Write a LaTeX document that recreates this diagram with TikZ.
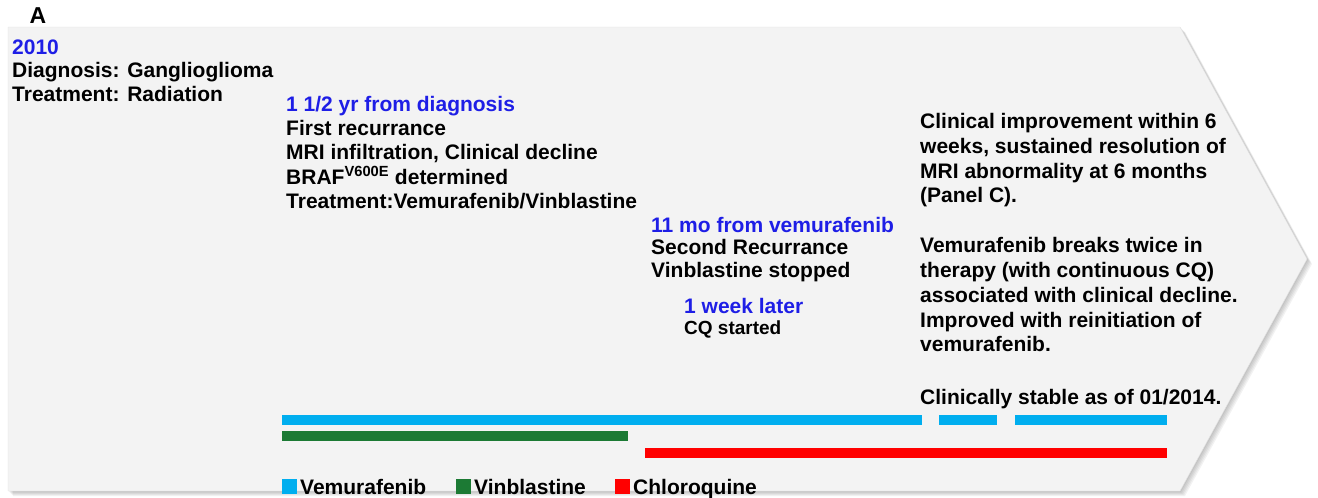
\documentclass[tikz,border=0pt]{standalone}
\usepackage{fontspec}
\setmainfont{Liberation Sans}
\usetikzlibrary{positioning}
\definecolor{tlblue}{RGB}{30,30,230}
\definecolor{vemblue}{RGB}{0,174,239}
\definecolor{vingreen}{RGB}{28,122,52}
\definecolor{cqred}{RGB}{255,0,0}
\definecolor{panelgray}{RGB}{243,243,243}

\begin{document}
\begin{tikzpicture}[x=1pt, y=-1pt,
    eventtext/.style={anchor=north west, align=left, inner sep=0pt, font=\fontsize{21}{24.2}\selectfont\bfseries},
    drugbar/.style={rectangle, anchor=west, inner sep=0pt, minimum height=10pt},
    legendbox/.style={rectangle, inner sep=0pt, minimum width=15pt, minimum height=15pt},
    legendtext/.style={anchor=base west, inner sep=0pt, font=\fontsize{21}{24}\selectfont\bfseries},
]
\useasboundingbox (0,0) rectangle (1318,498);

% Shadow of the timeline arrow
\foreach \s in {1,...,5} {
    \fill[black, opacity=0.05, xshift=\s pt, yshift=-\s pt] (8,27) -- (1180,27) -- (1307,259) -- (1180,491) -- (8,491) -- cycle;
}

% Timeline arrow
\draw[draw=black!12, fill=panelgray] (8,27) -- (1180,27) -- (1307,259) -- (1180,491) -- (8,491) -- cycle;

% Panel label
\node[font=\fontsize{23}{23}\selectfont\bfseries] (panel) at (38,16) {A};

% Events
\node[eventtext] (diagnosis) at (12,40) {\textcolor{tlblue}{2010}\\[-2pt]Diagnosis: Ganglioglioma\\Treatment: Radiation};
\node[eventtext] (recur1) at (286,96) {\textcolor{tlblue}{1 1/2 yr from diagnosis}\\First recurrance\\MRI infiltration, Clinical decline\\BRAF\textsuperscript{V600E} determined\\Treatment:Vemurafenib/Vinblastine};
\node[eventtext] (recur2) at (651,217) {\textcolor{tlblue}{11 mo from vemurafenib}\\[-2pt]Second Recurrance\\[-1pt]Vinblastine stopped};
\node[eventtext] (cqstart) at (684,298) {\textcolor{tlblue}{1 week later}\\[-3pt]{\fontsize{19}{21}\selectfont CQ started}};
\node[eventtext, font=\fontsize{21}{24.8}\selectfont\bfseries] (outcome) at (920,113) {Clinical improvement within 6\\weeks, sustained resolution of\\MRI abnormality at 6 months\\(Panel C).\\[25pt]Vemurafenib breaks twice in\\therapy (with continuous CQ)\\associated with clinical decline.\\Improved with reinitiation of\\vemurafenib.\\[28pt]Clinically stable as of 01/2014.};

% Drug bars
\node[drugbar, fill=vemblue, minimum width=640pt] (vem1) at (282,420) {};
\node[drugbar, fill=vemblue, minimum width=58pt] (vem2) at (939,420) {};
\node[drugbar, fill=vemblue, minimum width=152pt] (vem3) at (1015,420) {};
\node[drugbar, fill=vingreen, minimum width=346pt] (vin) at (282,436) {};
\node[drugbar, fill=cqred, minimum width=522pt] (cq) at (645,453) {};

% Legend
\node[legendbox, fill=vemblue] (vemkey) at (289.5,486.5) {};
\node[legendtext] (vemlabel) at (300,494) {Vemurafenib};
\node[legendbox, fill=vingreen] (vinkey) at (463.5,486.5) {};
\node[legendtext] (vinlabel) at (474,494) {Vinblastine};
\node[legendbox, fill=cqred] (cqkey) at (622.5,486.5) {};
\node[legendtext] (cqlabel) at (633,494) {Chloroquine};

\end{tikzpicture}
\end{document}
